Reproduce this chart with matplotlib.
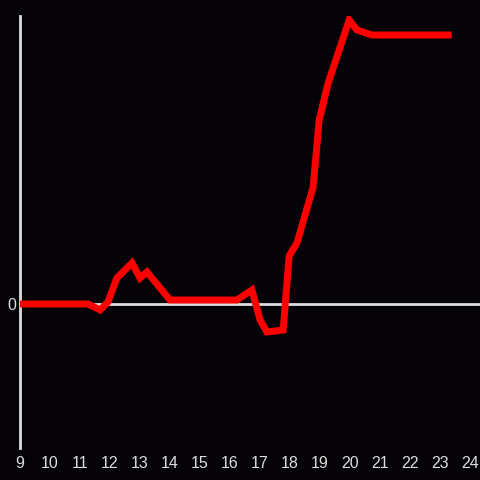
import matplotlib
matplotlib.use("Agg")
import matplotlib.pyplot as plt

hours = [9.0, 11.27, 11.67, 11.93, 12.23, 12.73, 13.0, 13.23, 14.0, 16.23, 16.73,
         17.0, 17.23, 17.77, 17.97, 18.23, 18.77, 18.97, 19.27, 19.97, 20.23, 20.73, 23.27]
values = [0, 0, -6, 2, 26, 41, 26, 32, 4, 4, 14,
          -16, -28, -26, 48, 61, 117, 184, 221, 284, 274, 269, 269]
xticks = list(range(9, 25))
yticks = [0]

bg = "#050307"
fg = "#dddddd"

fig = plt.figure(figsize=(4.8, 4.8), dpi=100, facecolor=bg)
ax = fig.add_axes([20/480, 32/480, 460/480, 432/480], facecolor=bg)
ax.plot(hours, values, color="#ff0000", lw=5, solid_joinstyle="miter", zorder=3)
ax.axhline(0, color=fg, lw=2, zorder=2)
ax.set_xlim(9, 24.33)
ax.set_ylim(-144, 288)
for s in ["top", "right", "bottom"]:
    ax.spines[s].set_visible(False)
ax.spines["left"].set_color(fg)
ax.spines["left"].set_linewidth(2)
ax.set_xticks(xticks)
ax.set_xticklabels([str(t) for t in xticks])
ax.set_yticks(yticks)
ax.set_yticklabels(["0"])
ax.tick_params(axis="both", length=0, colors=fg, labelsize=11.5, labelfontfamily="Liberation Sans")
ax.tick_params(axis="x", pad=6)
ax.tick_params(axis="y", pad=3)
fig.savefig("out.png", dpi=100, facecolor=bg)
